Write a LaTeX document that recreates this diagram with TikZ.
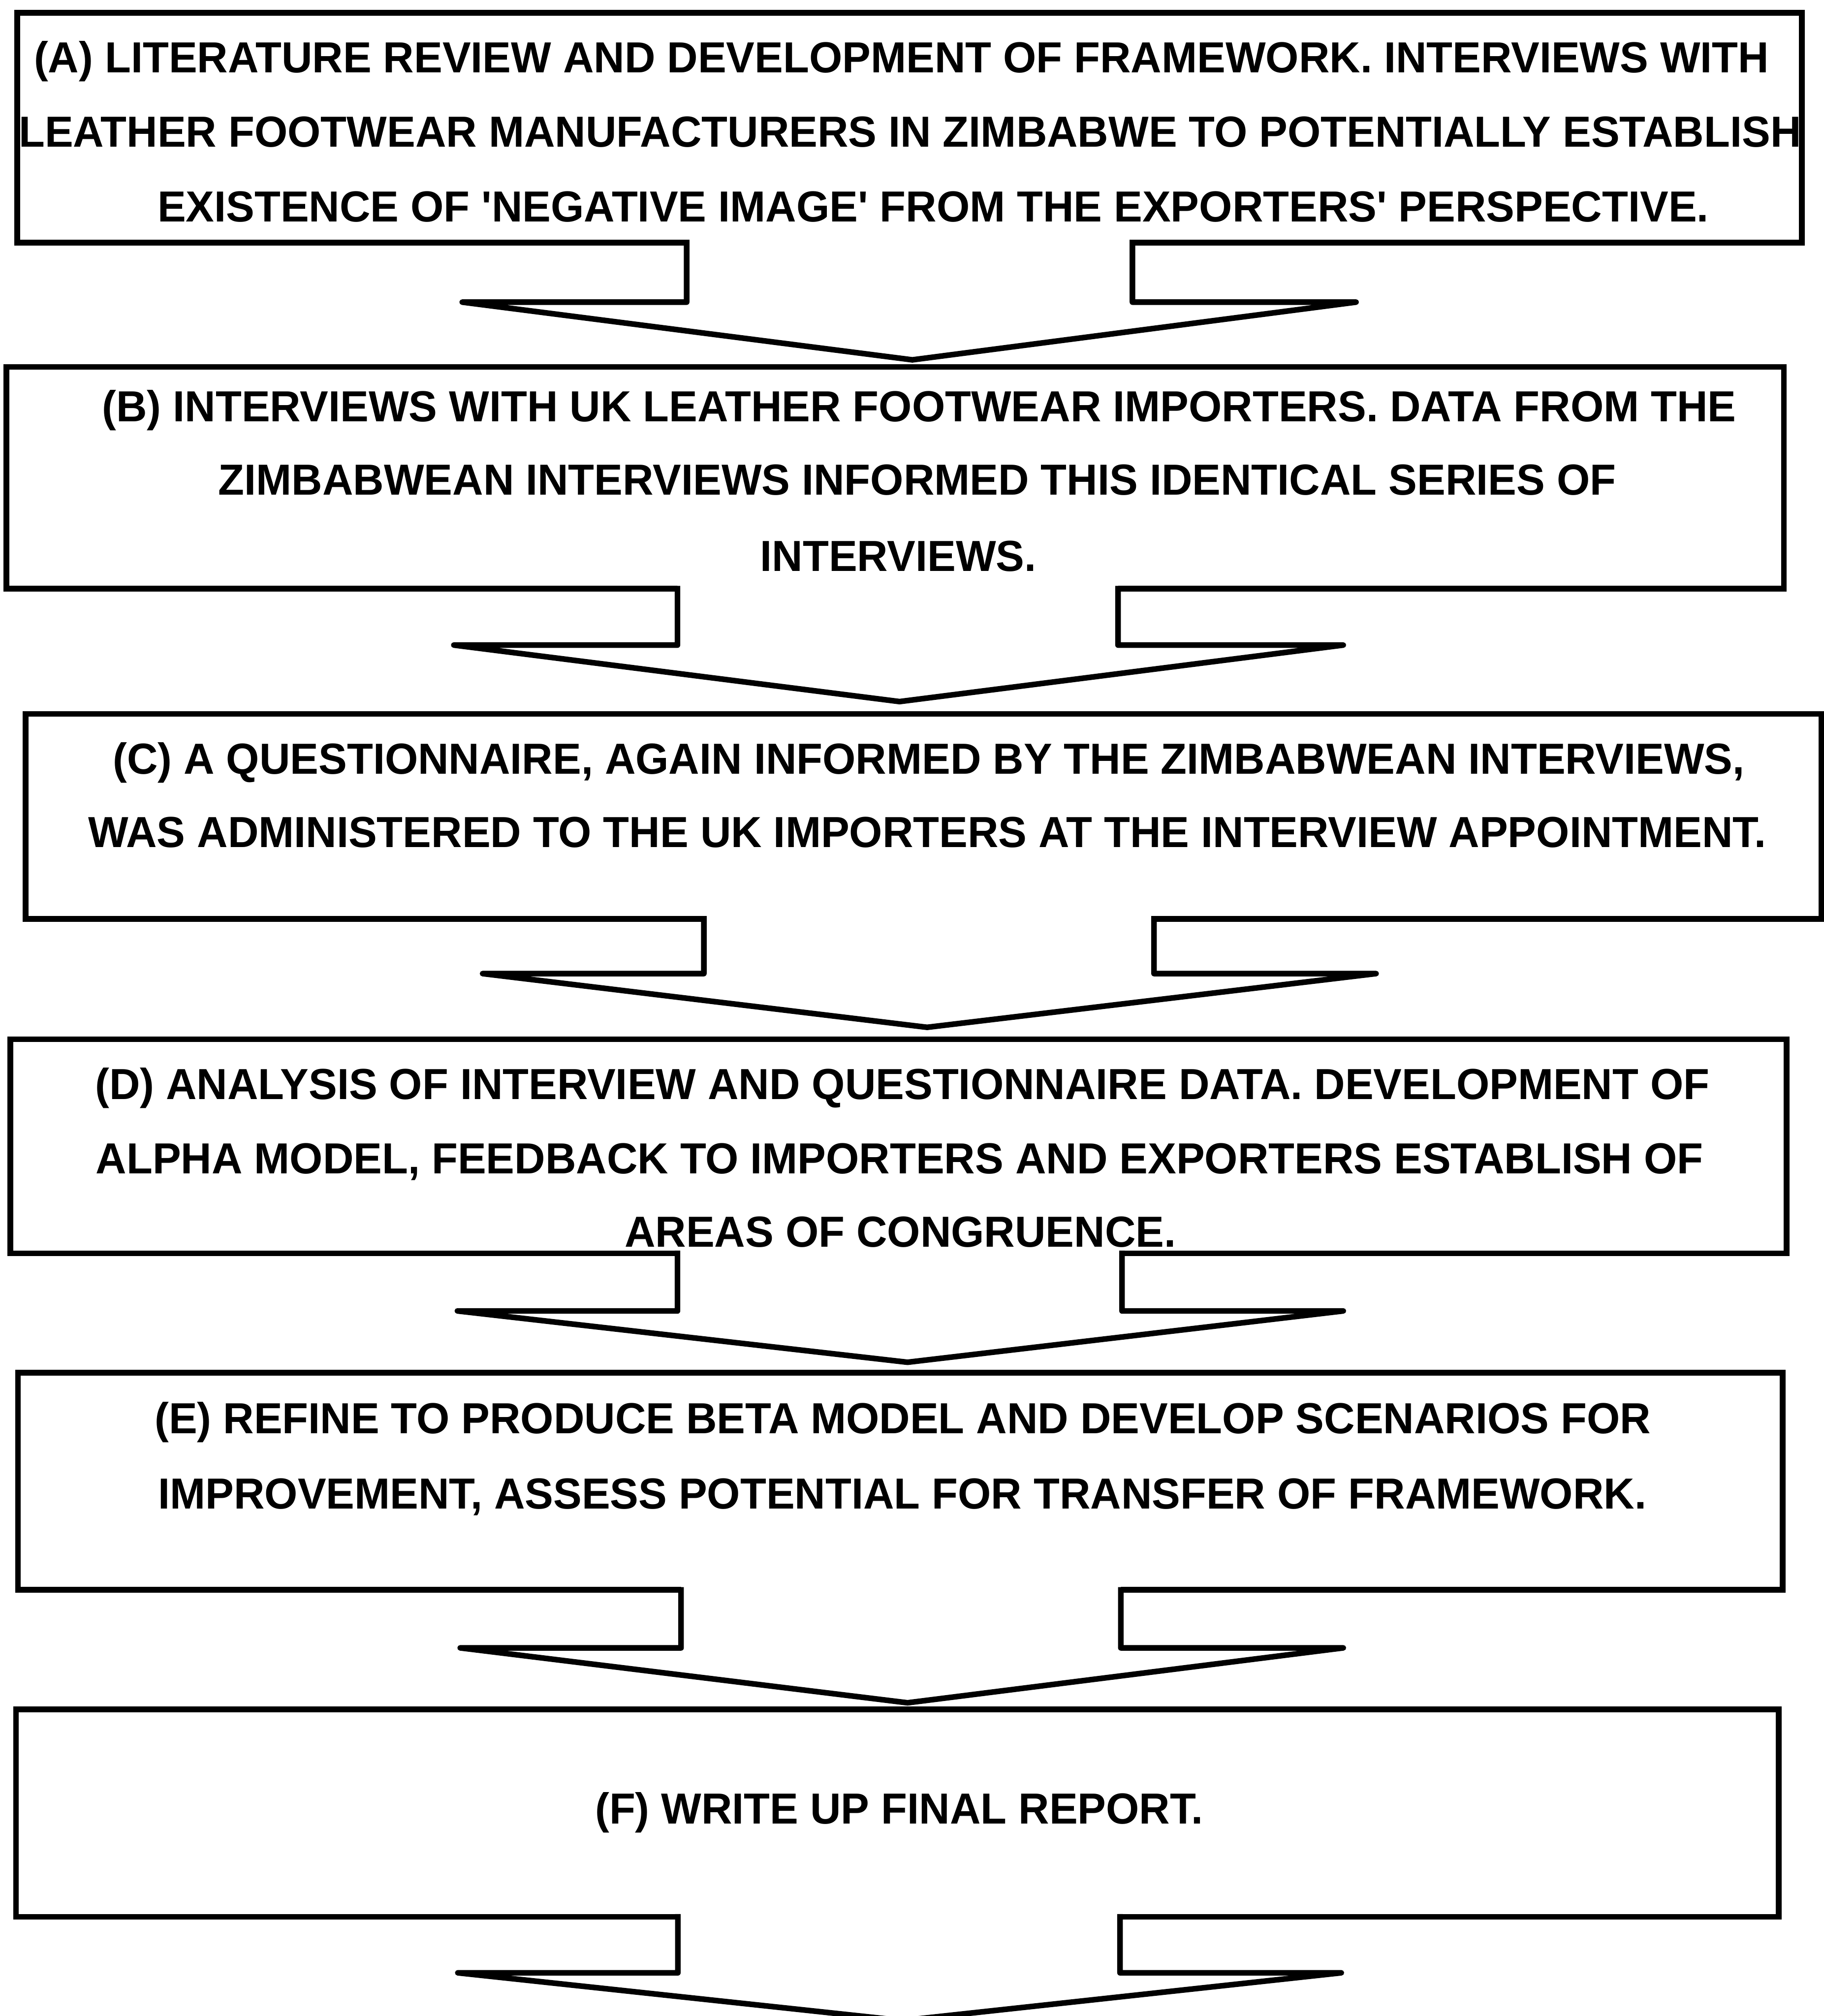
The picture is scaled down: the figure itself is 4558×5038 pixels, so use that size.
\documentclass[tikz,border=0pt]{standalone}
\usepackage{fontspec}
\newfontfamily\flowfont{Liberation Sans}[FakeStretch=0.98]
\usetikzlibrary{fit}
\tikzset{
  box/.style={draw, line width=1.45mm, inner sep=0pt},
  flowtext/.style={anchor=base, inner sep=0pt,
    font=\flowfont\bfseries\fontsize{30.9pt}{37pt}\selectfont},
  arrowline/.style={line width=1.4mm, line join=round, line cap=rect},
}
% Hollow block arrow leaving the bottom edge of #1 and pointing at #2.
% #3/#4: stem x, #5/#6: wing ends x, #7: wing y, #8: tip x, #9: lift of tip above #2
\newcommand\flowarrow[9]{%
  \fill[white] ([yshift=2mm]#3,0 |- #1.south) -- (#3,#7) -- (#5,#7)
    -- ([yshift=#9]#8,0 |- #2.north) -- (#6,#7) -- (#4,#7)
    -- ([yshift=2mm]#4,0 |- #1.south) -- cycle;
  \draw[arrowline] ([yshift=0.72mm]#3,0 |- #1.south) -- (#3,#7) -- (#5,#7)
    -- ([yshift=#9]#8,0 |- #2.north) -- (#6,#7) -- (#4,#7)
    -- ([yshift=0.72mm]#4,0 |- #1.south);
}
\begin{document}
\begin{tikzpicture}[x=0.1mm, y=-0.1mm]
\useasboundingbox (0,0) rectangle (4558,5038);
\fill[white] (0,0) rectangle (4558,5038);

% the six stages
\node[box, fit={(43,32) (4503,606)}] (A) {};
\node[box, fit={(16,917) (4458,1471)}] (B) {};
\node[box, fit={(64,1784) (4552,2296)}] (C) {};
\node[box, fit={(26,2597) (4465,3132)}] (D) {};
\node[box, fit={(45,3430) (4455,3973)}] (E) {};
\node[box, fit={(40,4272) (4445,4790)}] (F) {};
\node[inner sep=0pt, minimum size=0pt] (end) at (2255,5050) {};

% stage texts
\node[flowtext] (a1) at (2253,181) {(A) LITERATURE REVIEW AND DEVELOPMENT OF FRAMEWORK. INTERVIEWS WITH};
\node[flowtext] (a2) at (2274,367) {LEATHER FOOTWEAR MANUFACTURERS IN ZIMBABWE TO POTENTIALLY ESTABLISH};
\node[flowtext] (a3) at (2332,554) {EXISTENCE OF 'NEGATIVE IMAGE' FROM THE EXPORTERS' PERSPECTIVE.};

\node[flowtext] (b1) at (2297,1054) {(B) INTERVIEWS WITH UK LEATHER FOOTWEAR IMPORTERS. DATA FROM THE};
\node[flowtext] (b2) at (2292,1237) {ZIMBABWEAN INTERVIEWS INFORMED THIS IDENTICAL SERIES OF};
\node[flowtext] (b3) at (2245,1427) {INTERVIEWS.};

\node[flowtext] (c1) at (2321,1934) {(C) A QUESTIONNAIRE, AGAIN INFORMED BY THE ZIMBABWEAN INTERVIEWS,};
\node[flowtext] (c2) at (2317,2117) {WAS ADMINISTERED TO THE UK IMPORTERS AT THE INTERVIEW APPOINTMENT.};

\node[flowtext] (d1) at (2255,2747) {(D) ANALYSIS OF INTERVIEW AND QUESTIONNAIRE DATA. DEVELOPMENT OF};
\node[flowtext] (d2) at (2248,2933) {ALPHA MODEL, FEEDBACK TO IMPORTERS AND EXPORTERS ESTABLISH OF};
\node[flowtext] (d3) at (2250,3116) {AREAS OF CONGRUENCE.};

\node[flowtext] (e1) at (2256,3582) {(E) REFINE TO PRODUCE BETA MODEL AND DEVELOP SCENARIOS FOR};
\node[flowtext] (e2) at (2255,3771) {IMPROVEMENT, ASSESS POTENTIAL FOR TRANSFER OF FRAMEWORK.};

\node[flowtext] (f1) at (2247,4558) {(F) WRITE UP FINAL REPORT.};

% block arrows between the stages
\flowarrow{A}{B}{1716}{2830}{1155}{3389}{755}{2280}{1.05mm}
\flowarrow{B}{C}{1693}{2794}{1134}{3357}{1612}{2248}{2.35mm}
\flowarrow{C}{D}{1759}{2884}{1206}{3439}{2433}{2317}{2.25mm}
\flowarrow{D}{E}{1693}{2804}{1143}{3357}{3276}{2268}{1.85mm}
\flowarrow{E}{F}{1702}{2801}{1150}{3357}{4118}{2268}{0.95mm}
\flowarrow{F}{end}{1694}{2799}{1144}{3352}{4930}{2255}{0mm}
\end{tikzpicture}
\end{document}
